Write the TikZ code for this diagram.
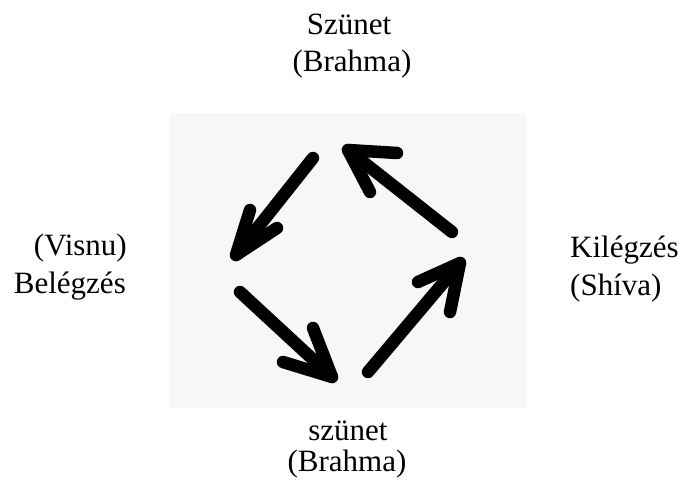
\documentclass[tikz,border=0pt]{standalone}
\usepackage{fontspec}
\setmainfont{Liberation Serif}
\begin{document}
\begin{tikzpicture}[x=1pt,y=1pt,
  lbl/.style={inner sep=0pt,font=\fontsize{31}{36}\selectfont},
  stroke/.style={line width=12.5pt,line cap=round,line join=round,black}]
\useasboundingbox (0,0) rectangle (685,480);
\fill[white] (0,0) rectangle (685,480);
% scanned paper area
\fill[black!3] (170,72) rectangle (526,367);
% text
\node[lbl,anchor=base] (t1) at (349,445) {Szünet};
\node[lbl,anchor=base] (t2) at (352,408) {(Brahma)};
\node[lbl,anchor=base east] (l1) at (127,225) {(Visnu)};
\node[lbl,anchor=base east] (l2) at (126,187) {Belégzés};
\node[lbl,anchor=base west] (r1) at (570,223) {Kilégzés};
\node[lbl,anchor=base west] (r2) at (570,185) {(Shíva)};
\node[lbl,anchor=base] (b1) at (348,40) {szünet};
\node[lbl,anchor=base] (b2) at (347,9) {(Brahma)};
% arrow 1: top-left, pointing down-left
\coordinate (a1s) at (313,322); \coordinate (a1t) at (236,225);
\draw[stroke] (a1s) -- (a1t);
\draw[stroke] (250,270) -- (a1t) -- (277,252);
% arrow 2: bottom-left, pointing down-right
\coordinate (a2s) at (240,188); \coordinate (a2t) at (332,103);
\draw[stroke] (a2s) -- (a2t);
\draw[stroke] (313,152) -- (a2t) -- (283,118);
% arrow 3: bottom-right, pointing up-right
\coordinate (a3s) at (368,108); \coordinate (a3t) at (460,217);
\draw[stroke] (a3s) -- (a3t);
\draw[stroke] (418,198) -- (a3t) -- (450,168);
% arrow 4: top-right, pointing up-left
\coordinate (a4s) at (452,248); \coordinate (a4t) at (348,330);
\draw[stroke] (a4s) -- (a4t);
\draw[stroke] (397,327) -- (a4t) -- (370,288);
\end{tikzpicture}
\end{document}
